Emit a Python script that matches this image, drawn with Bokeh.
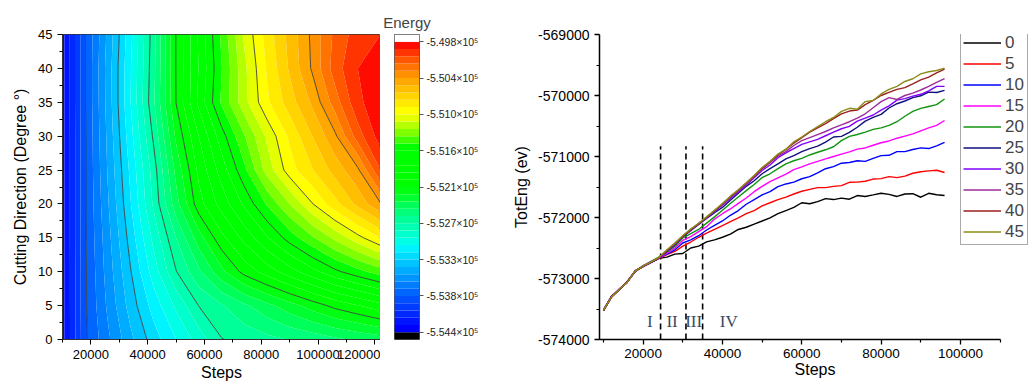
import numpy as np
from bokeh.plotting import figure
from bokeh.layouts import row
from bokeh.models import (Range1d, FixedTicker, NumeralTickFormatter, Legend, LegendItem,
                          CustomJSTickFormatter)
from bokeh.embed import file_html
from bokeh.resources import INLINE
from bokeh.core.properties import value

FONT = "Liberation Sans"

# ---------------- contour map data (energy vs steps and cutting direction) ----------------
grid_steps = [10000, 18000, 26000, 34000, 42000, 50000, 58000, 66000, 74000, 82000,
              90000, 98000, 106000, 114000, 122000]
grid_angles = [0, 5, 10, 15, 20, 25, 30, 35, 40, 45]
energy_a0 = [-554330, -553848, -553618, -553394, -553192, -553020, -552853, -552681, -552635, -552594, -552554, -552514, -552468, -552428, -552387]
energy_a5 = [-554330, -553842, -553572, -553313, -553089, -552882, -552672, -552571, -552468, -552364, -552261, -552163, -552065, -551991, -551910]
energy_a10 = [-554330, -553842, -553543, -553256, -552968, -552681, -552468, -552249, -552060, -551933, -551807, -551680, -551554, -551450, -551352]
energy_a15 = [-554330, -553836, -553520, -553198, -552876, -552560, -552267, -552019, -551835, -551651, -551473, -551312, -551151, -550990, -550835]
energy_a20 = [-554330, -553836, -553491, -553141, -552773, -552376, -552031, -551824, -551617, -551398, -551180, -550956, -550760, -550570, -550386]
energy_a25 = [-554330, -553836, -553468, -553106, -552738, -552295, -551956, -551703, -551439, -551134, -550887, -550726, -550559, -550398, -550030]
energy_a30 = [-554330, -553836, -553451, -553060, -552658, -552192, -551870, -551577, -551306, -551042, -550812, -550605, -550398, -550087, -549857]
energy_a35 = [-554330, -553831, -553434, -553020, -552583, -552097, -551726, -551393, -551105, -550858, -550662, -550467, -550202, -549944, -549829]
energy_a40 = [-554330, -553831, -553428, -553026, -552600, -552094, -551749, -551416, -551094, -550823, -550588, -550358, -550087, -549915, -549846]
energy_a45 = [-554330, -553831, -553451, -553049, -552612, -552094, -551738, -551387, -551048, -550789, -550565, -550346, -550116, -549972, -549915]
energy_rows = [energy_a0, energy_a5, energy_a10, energy_a15, energy_a20,
               energy_a25, energy_a30, energy_a35, energy_a40, energy_a45]

energy_min = -554400
energy_max = -549800
cbar_tick_labels = ["-5.544×10⁵", "-5.538×10⁵", "-5.533×10⁵", "-5.527×10⁵", "-5.521×10⁵",
                    "-5.516×10⁵", "-5.510×10⁵", "-5.504×10⁵", "-5.498×10⁵"]

# ---------------- TotEng curves ----------------
steps = [10000, 12000, 14000, 16000, 18000, 20000, 22000, 24000, 26000, 28000, 30000, 32000,
         34000, 36000, 38000, 40000, 42000, 44000, 46000, 48000, 50000, 52000, 54000, 56000,
         58000, 60000, 62000, 64000, 66000, 68000, 70000, 72000, 74000, 76000, 78000, 80000,
         82000, 84000, 86000, 88000, 90000, 92000, 94000, 96000]
toteng_0 = [-573520, -573300, -573180, -573060, -572880, -572800, -572740, -572670, -572650, -572600, -572590, -572500, -572469, -572400, -572366, -572324, -572273, -572196, -572160, -572108, -572057, -572005, -571938, -571886, -571835, -571758, -571775, -571740, -571690, -571706, -571682, -571700, -571640, -571655, -571630, -571603, -571620, -571655, -571615, -571610, -571668, -571603, -571628, -571640]
toteng_5 = [-573525, -573310, -573175, -573050, -572885, -572795, -572730, -572670, -572610, -572555, -572469, -572402, -572324, -572255, -572196, -572134, -572067, -572006, -571938, -571886, -571809, -571758, -571706, -571665, -571615, -571570, -571540, -571510, -571510, -571490, -571478, -571423, -571420, -571405, -571370, -571362, -571330, -571346, -571322, -571275, -571250, -571236, -571225, -571262]
toteng_10 = [-573515, -573295, -573185, -573055, -572875, -572805, -572735, -572665, -572600, -572530, -572418, -572366, -572299, -572205, -572129, -572057, -571964, -571886, -571783, -571706, -571629, -571577, -571495, -571450, -571420, -571365, -571330, -571270, -571200, -571165, -571110, -571098, -571070, -571080, -571030, -570985, -570980, -570920, -570920, -570885, -570858, -570870, -570825, -570770]
toteng_15 = [-573520, -573305, -573170, -573065, -572870, -572800, -572725, -572660, -572590, -572500, -572376, -572315, -572232, -572150, -572026, -571938, -571860, -571768, -571681, -571577, -571489, -571412, -571350, -571290, -571215, -571170, -571120, -571080, -571040, -571000, -570960, -570925, -570880, -570860, -570815, -570775, -570745, -570700, -570665, -570630, -570580, -570530, -570490, -570410]
toteng_20 = [-573530, -573300, -573185, -573050, -572880, -572790, -572720, -572650, -572570, -572470, -572335, -572263, -572196, -572093, -571990, -571880, -571770, -571665, -571560, -571459, -571345, -571283, -571200, -571120, -571070, -571030, -570975, -570930, -570890, -570840, -570740, -570670, -570640, -570600, -570555, -570530, -570490, -570430, -570340, -570260, -570210, -570180, -570150, -570057]
toteng_25 = [-573520, -573295, -573180, -573060, -572885, -572800, -572730, -572660, -572555, -572445, -572315, -572215, -572115, -572015, -571922, -571835, -571717, -571604, -571489, -571397, -571283, -571200, -571120, -571040, -570985, -570920, -570870, -570830, -570765, -570680, -570670, -570605, -570520, -570420, -570360, -570310, -570205, -570135, -570090, -570035, -570005, -569945, -569950, -569915]
toteng_30 = [-573525, -573300, -573175, -573055, -572880, -572795, -572735, -572660, -572550, -572440, -572310, -572205, -572110, -572005, -571900, -571800, -571690, -571580, -571465, -571350, -571230, -571140, -571020, -570940, -570870, -570800, -570760, -570720, -570660, -570600, -570545, -570505, -570420, -570370, -570320, -570240, -570170, -570075, -570052, -570010, -569980, -569925, -569850, -569851]
toteng_35 = [-573520, -573305, -573180, -573060, -572875, -572800, -572730, -572660, -572545, -572430, -572305, -572200, -572100, -571998, -571890, -571785, -571670, -571565, -571450, -571330, -571205, -571100, -570990, -570920, -570820, -570740, -570690, -570640, -570590, -570530, -570480, -570430, -570370, -570300, -570200, -570100, -570035, -570065, -570000, -569960, -569910, -569850, -569785, -569722]
toteng_40 = [-573525, -573300, -573180, -573055, -572880, -572800, -572735, -572655, -572540, -572425, -572305, -572195, -572100, -571995, -571890, -571775, -571660, -571550, -571435, -571315, -571190, -571085, -570970, -570885, -570780, -570690, -570600, -570530, -570460, -570380, -570300, -570255, -570240, -570150, -570080, -570000, -569950, -569900, -569870, -569810, -569745, -569700, -569630, -569567]
toteng_45 = [-573520, -573305, -573175, -573060, -572880, -572795, -572730, -572650, -572530, -572420, -572300, -572190, -572095, -571990, -571880, -571770, -571650, -571545, -571430, -571310, -571180, -571080, -570960, -570880, -570760, -570680, -570590, -570510, -570430, -570360, -570260, -570210, -570225, -570100, -570083, -569975, -569900, -569850, -569770, -569725, -569645, -569610, -569590, -569552]
series_labels = ["0", "5", "10", "15", "20", "25", "30", "35", "40", "45"]
series_values = [toteng_0, toteng_5, toteng_10, toteng_15, toteng_20,
                 toteng_25, toteng_30, toteng_35, toteng_40, toteng_45]

stage_dividers = [24400, 30800, 35000]
divider_top = -570830
divider_bottom = -574000
stage_labels = ["I", "II", "III", "IV"]
stage_label_x = [21700, 27300, 32750, 41600]
stage_label_y = [-573706, -573706, -573706, -573706]

# ---------------- styles ----------------
palette40 = ["#0000FF", "#0014FF", "#0028FF", "#003CFF", "#0050FF", "#0066FF", "#007CFF", "#0094FF",
             "#00ACFF", "#00C4FF", "#00DCFF", "#00F4FF", "#00FFE6", "#00FFCC", "#00FFB2", "#00FF98",
             "#00FF7A", "#00FF58", "#00FF30", "#00FF10", "#00FF00", "#00FF00", "#00FF00", "#00FF00",
             "#00FF00", "#00FF00", "#40FF00", "#80FF00", "#B4FF00", "#E4FF00", "#FFFF00", "#FFEA00",
             "#FFD400", "#FFBE00", "#FFA800", "#FF9000", "#FF7400", "#FF5600", "#FF3400", "#FF0C00"]
series_colors = ["#000000", "#FF0000", "#0000FF", "#FF00FF", "#109410",
                 "#10107F", "#8000FF", "#9B2D9B", "#9A1F1F", "#8C8C1A"]


def style_axis(ax, label_size="13px"):
    ax.major_label_text_font = FONT
    ax.major_label_text_font_size = label_size
    ax.major_label_text_color = "black"
    ax.axis_label_text_font = FONT
    ax.axis_label_text_font_size = "16px"
    ax.axis_label_text_font_style = "normal"
    ax.axis_label_text_color = "black"
    ax.major_tick_in = 0
    ax.major_tick_out = 5
    ax.minor_tick_in = 0
    ax.minor_tick_out = 3


# ---------------- figure A: contour map ----------------
nlev = len(palette40)
fill_levels = np.linspace(energy_min, energy_max, nlev + 1)
line_levels = np.linspace(energy_min, energy_max, 9)[1:-1]
z = np.array(energy_rows, dtype=float)
gx = np.array(grid_steps, dtype=float)
gy = np.array(grid_angles, dtype=float)

pA = figure(width=380, height=385, x_range=Range1d(10000, 122000), y_range=Range1d(0, 45),
            output_backend="svg", toolbar_location=None,
            min_border_left=62, min_border_right=0, min_border_top=34, min_border_bottom=46)
pA.contour(gx, gy, z, fill_levels, fill_color=palette40)
pA.contour(gx, gy, z, line_levels, line_color="#3a3a3a", line_width=1, line_alpha=0.85)
pA.xgrid.visible = False
pA.ygrid.visible = False
pA.outline_line_color = "#333333"
pA.outline_line_width = 1
pA.xaxis.ticker = FixedTicker(ticks=[20000, 40000, 60000, 80000, 100000, 120000],
                              minor_ticks=[10000, 30000, 50000, 70000, 90000, 110000])
pA.xaxis.formatter = NumeralTickFormatter(format="0")
pA.yaxis.ticker = FixedTicker(ticks=[0, 5, 10, 15, 20, 25, 30, 35, 40, 45],
                              minor_ticks=[2.5, 7.5, 12.5, 17.5, 22.5, 27.5, 32.5, 37.5, 42.5])
pA.xaxis.axis_label = "Steps"
pA.yaxis.axis_label = "Cutting Direction (Degree °)"
style_axis(pA.xaxis[0], "13px")
style_axis(pA.yaxis[0], "13px")
pA.xaxis.axis_label_standoff = 2
pA.yaxis.axis_label_standoff = 6
for ax in (pA.xaxis[0], pA.yaxis[0]):
    ax.axis_line_color = "#333333"

# ---------------- figure B: colour bar ----------------
band = (energy_max - energy_min) / nlev
cb_edges = np.linspace(energy_min - band, energy_max + band, nlev + 3)
cb_colors = ["#000000"] + palette40 + ["#FFFFFF"]
pB = figure(width=110, height=385, x_range=Range1d(0, 1),
            y_range=Range1d(energy_min - band, energy_max + band),
            output_backend="svg", toolbar_location=None, x_axis_location=None,
            y_axis_location="right",
            min_border_left=14, min_border_right=71, min_border_top=34, min_border_bottom=45)
pB.quad(left=0, right=1, bottom=cb_edges[:-1], top=cb_edges[1:], fill_color=cb_colors,
        line_color=None)
pB.xgrid.visible = False
pB.ygrid.visible = False
pB.outline_line_color = "#555555"
cb_ticks = [float(t) for t in np.linspace(energy_min, energy_max, 9)]
pB.yaxis.ticker = FixedTicker(ticks=cb_ticks, minor_ticks=[])
pB.yaxis.formatter = CustomJSTickFormatter(args=dict(vals=cb_ticks, labels=cbar_tick_labels),
                                           code="""
    let best = 0, bd = Infinity;
    for (let i = 0; i < vals.length; i++) {
        const d = Math.abs(vals[i] - tick);
        if (d < bd) { bd = d; best = i; }
    }
    return labels[best];
""")
pB.yaxis.axis_line_color = None
pB.yaxis.major_tick_in = 0
pB.yaxis.major_tick_out = 4
pB.yaxis.major_tick_line_color = "#555555"
pB.yaxis.major_label_standoff = 3
pB.yaxis.major_label_text_font = FONT
pB.yaxis.major_label_text_font_size = "10.5px"
pB.yaxis.major_label_text_color = "#222222"
pB.title.text = "Energy"
pB.title.align = "center"
pB.title.text_font = FONT
pB.title.text_font_size = "15px"
pB.title.text_font_style = "normal"
pB.title.standoff = 8

# ---------------- figure C: TotEng curves ----------------
# frame spans the plot plus the legend; axis line stops at 110000 like the reference
pC = figure(width=544, height=385, x_range=Range1d(9000, 117670),
            y_range=Range1d(-574000, -569000),
            output_backend="svg", toolbar_location=None,
            min_border_left=109, min_border_right=4, min_border_top=18, min_border_bottom=43)
pC.xgrid.visible = False
pC.ygrid.visible = False
pC.outline_line_color = None

pC.segment(x0=stage_dividers, y0=[divider_bottom] * len(stage_dividers),
           x1=stage_dividers, y1=[divider_top] * len(stage_dividers),
           line_color="black", line_width=1.6, line_dash="6 4")

items = []
for lab, vals, col in zip(series_labels, series_values, series_colors):
    r = pC.line(steps, vals, line_color=col, line_width=1.4)
    items.append(LegendItem(label=lab, renderers=[r]))

pC.text(x=stage_label_x, y=stage_label_y, text=stage_labels,
        text_font=value("Liberation Serif"), text_font_size="17px",
        text_align="center", text_baseline="middle", text_color="#3C4A63")

legend = Legend(items=items, location=(361, 94))
legend.glyph_width = 38
legend.glyph_height = 21
legend.label_height = 21
legend.spacing = 0
legend.padding = 2
legend.margin = 0
legend.label_standoff = 4
legend.label_text_font = FONT
legend.label_text_font_size = "17px"
legend.border_line_color = "#555555"
legend.border_line_width = 1
legend.background_fill_alpha = 1
pC.add_layout(legend)

pC.xaxis.ticker = FixedTicker(ticks=[20000, 40000, 60000, 80000, 100000],
                              minor_ticks=[10000, 30000, 50000, 70000, 90000, 110000])
pC.xaxis.bounds = (9000, 110000)
pC.xaxis.formatter = NumeralTickFormatter(format="0")
pC.yaxis.ticker = FixedTicker(ticks=[-574000, -573000, -572000, -571000, -570000, -569000],
                              minor_ticks=[-573500, -572500, -571500, -570500, -569500])
pC.yaxis.formatter = NumeralTickFormatter(format="0")
pC.xaxis.axis_label = "Steps"
pC.yaxis.axis_label = "TotEng (ev)"
style_axis(pC.xaxis[0], "13.5px")
style_axis(pC.yaxis[0], "14px")
pC.xaxis.axis_label_standoff = 0
pC.xaxis.major_label_standoff = 4
for ax in (pC.xaxis[0], pC.yaxis[0]):
    ax.axis_line_color = "black"
    ax.axis_line_width = 1.5
    ax.major_tick_line_width = 1.3
    ax.minor_tick_line_width = 1.2

layout = row(pA, pB, pC)
open("out.html", "w").write(file_html(layout, INLINE))
